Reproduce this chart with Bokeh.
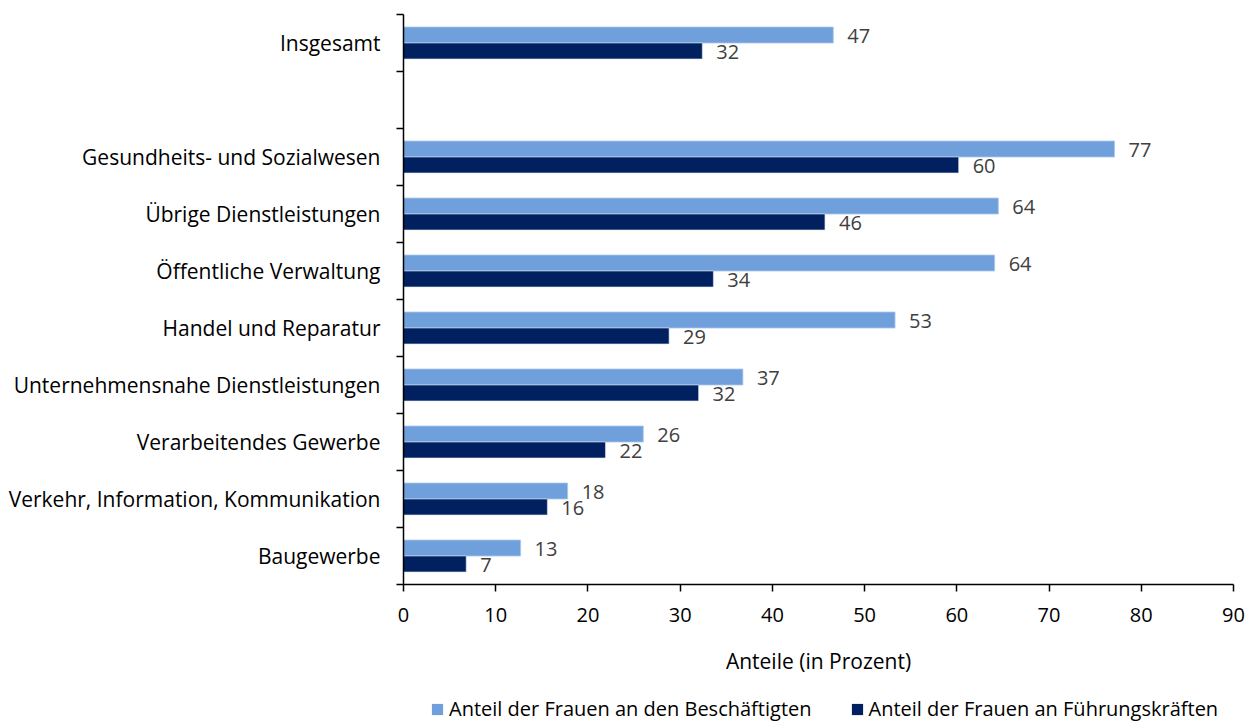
from bokeh.plotting import figure
from bokeh.layouts import column
from bokeh.models import (Range1d, FixedTicker, Legend, LegendItem, ColumnDataSource)
from bokeh.core.properties import value
from bokeh.embed import file_html
from bokeh.resources import INLINE

# Data (top to bottom, None = empty slot)
categories = ["Insgesamt", None,
              "Gesundheits- und Sozialwesen", "Übrige Dienstleistungen",
              "Öffentliche Verwaltung", "Handel und Reparatur",
              "Unternehmensnahe Dienstleistungen", "Verarbeitendes Gewerbe",
              "Verkehr, Information, Kommunikation", "Baugewerbe"]
beschaeftigte = [46.6, None, 77.1, 64.5, 64.1, 53.3, 36.8, 26.0, 17.8, 12.7]
fuehrung = [32.4, None, 60.2, 45.7, 33.6, 28.8, 32.0, 21.9, 15.6, 6.8]
label_besch = ["47", None, "77", "64", "64", "53", "37", "26", "18", "13"]
label_fuehr = ["32", None, "60", "46", "34", "29", "32", "22", "16", "7"]
x_ticks = [0, 10, 20, 30, 40, 50, 60, 70, 80, 90]

series_names = ["Anteil der Frauen an den Beschäftigten",
                "Anteil der Frauen an Führungskräften"]
LIGHT = "#6FA0DC"
DARK = "#002060"
FONT = "Open Sans"

n = len(categories)
centers = [n - 1 - i + 0.5 for i in range(n)]
idx = [i for i, c in enumerate(categories) if c is not None]

light_src = ColumnDataSource(dict(
    y=[centers[i] + 0.14 for i in idx],
    x=[beschaeftigte[i] for i in idx],
    t=[label_besch[i] for i in idx]))
dark_src = ColumnDataSource(dict(
    y=[centers[i] - 0.14 for i in idx],
    x=[fuehrung[i] for i in idx],
    t=[label_fuehr[i] for i in idx]))

p = figure(width=1257, height=690, output_backend="svg", toolbar_location=None,
           x_range=Range1d(0, 90), y_range=Range1d(0, n),
           min_border_left=403, min_border_right=24, min_border_top=14,
           min_border_bottom=106)
p.outline_line_color = None
p.grid.visible = False
p.background_fill_color = "white"

p.hbar(y="y", right="x", left=0, height=0.28, source=light_src,
       fill_color=LIGHT, line_color="#A9C6EC", line_width=0.8)
p.hbar(y="y", right="x", left=0, height=0.28, source=dark_src,
       fill_color=DARK, line_color="#DCE4F0", line_width=0.6)

for src in (light_src, dark_src):
    p.text(x="x", y="y", text="t", source=src, x_offset=14, y_offset=1,
           text_baseline="middle", text_align="left",
           text_font=value(FONT), text_font_size="20px", text_color="#404040")

# x axis
xa = p.xaxis[0]
xa.ticker = FixedTicker(ticks=x_ticks)
xa.axis_label = "Anteile (in Prozent)"
xa.axis_label_text_font = FONT
xa.axis_label_text_font_size = "21px"
xa.axis_label_text_font_style = "normal"
xa.axis_label_text_color = "black"
xa.axis_label_standoff = 22
xa.major_label_text_font = FONT
xa.major_label_text_font_size = "20px"
xa.major_label_text_color = "black"
xa.major_label_standoff = 16
xa.major_tick_out = 7
xa.major_tick_in = 0
xa.minor_tick_out = 0
xa.minor_tick_in = 0
xa.axis_line_color = "black"
xa.axis_line_width = 1.5
xa.major_tick_line_color = "black"
xa.major_tick_line_width = 1.5

# y axis: labels at centres, ticks at slot boundaries
ya = p.yaxis[0]
ya.ticker = FixedTicker(ticks=[centers[i] for i in idx],
                        minor_ticks=[float(k) for k in range(n + 1)])
ya.major_label_overrides = {centers[i]: categories[i] for i in idx}
ya.major_label_text_font = FONT
ya.major_label_text_font_size = "21px"
ya.major_label_text_color = "black"
ya.major_label_standoff = 16
ya.major_tick_out = 0
ya.major_tick_in = 0
ya.minor_tick_out = 7
ya.minor_tick_in = 0
ya.minor_tick_line_color = "black"
ya.minor_tick_line_width = 1.5
ya.axis_line_color = "black"
ya.axis_line_width = 1.5

# legend strip below the chart (frame is aligned with the chart frame)
lg = figure(width=1257, height=32, output_backend="svg", toolbar_location=None,
            x_range=Range1d(0, 1), y_range=Range1d(0, 1),
            min_border_left=0, min_border_right=0, min_border_top=0,
            min_border_bottom=0, x_axis_type=None, y_axis_type=None)
lg.outline_line_color = None
lg.grid.visible = False
# zero-length placeholder bars, only used as legend swatches
e1 = ColumnDataSource(dict(y=[0.5], x=[0.0]))
e2 = ColumnDataSource(dict(y=[0.5], x=[0.0]))
g1 = lg.hbar(y="y", right="x", left=0, height=0.5, source=e1,
             fill_color=LIGHT, line_color=None)
g2 = lg.hbar(y="y", right="x", left=0, height=0.5, source=e2,
             fill_color=DARK, line_color=None)
legend = Legend(items=[LegendItem(label=series_names[0], renderers=[g1]),
                       LegendItem(label=series_names[1], renderers=[g2])],
                orientation="horizontal", location=(27, 0),
                label_text_font=FONT, label_text_font_size="20px",
                label_text_color="black", glyph_width=14, glyph_height=14,
                label_standoff=5, spacing=38, padding=0, margin=0,
                border_line_color=None, background_fill_alpha=0)
lg.add_layout(legend, "center")

open("out.html", "w").write(file_html(column(p, lg, spacing=0), INLINE))
